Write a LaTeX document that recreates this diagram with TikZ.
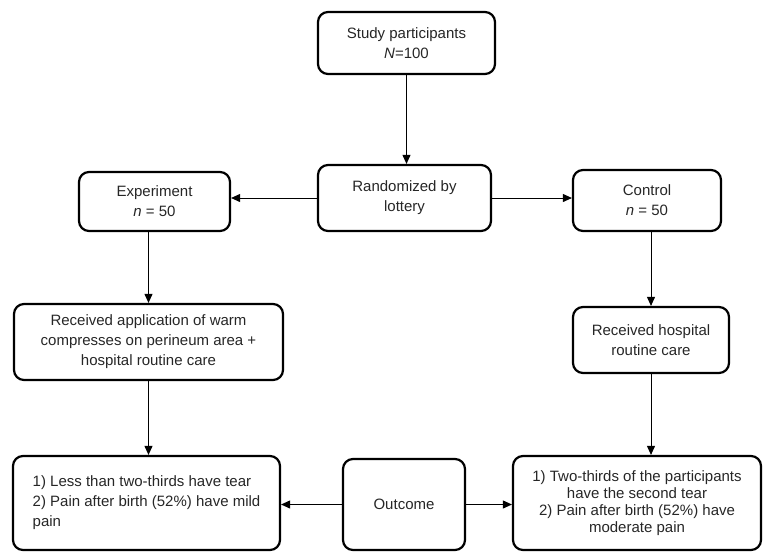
\documentclass[tikz,border=0pt]{standalone}
\usepackage{fontspec}
\setmainfont{Liberation Sans}
\usetikzlibrary{arrows.meta, positioning, calc}

\begin{document}
\begin{tikzpicture}[x=1pt, y=-1pt,
    box/.style={draw, rounded corners=10pt, line width=2.2pt, align=center, inner sep=0pt,
        font=\fontsize{15}{20}\selectfont, text=black!85},
    arr/.style={-{Triangle[length=9pt, width=8pt]}, line width=0.9pt}]
    \useasboundingbox (0,0) rectangle (763,552);

    \node[box, minimum width=177pt, minimum height=62pt] (study) at (406.5,43) {Study participants\\\textit{N}=100};
    \node[box, minimum width=173pt, minimum height=66pt] (random) at (404.5,198) {Randomized by\\lottery};
    \node[box, minimum width=151pt, minimum height=59pt] (exp) at (154.5,201.5) {Experiment\\\textit{n} = 50};
    \node[box, minimum width=148pt, minimum height=61pt] (ctrl) at (647,200.5) {Control\\\textit{n} = 50};
    \node[box, minimum width=269pt, minimum height=76pt] (recvexp) at (148.5,342) {Received application of warm\\compresses on perineum area +\\hospital routine care};
    \node[box, minimum width=156pt, minimum height=66pt] (recvctrl) at (651,340) {Received hospital\\routine care};
    \node[box, minimum width=267pt, minimum height=94pt, align=left] (outexp) at (146.5,503) {1) Less than two-thirds have tear\\2) Pain after birth (52\%) have mild\\pain};
    \node[box, minimum width=122pt, minimum height=91pt] (outcome) at (404,504.5) {Outcome};
    \node[box, minimum width=248pt, minimum height=94pt, font=\fontsize{15}{17}\selectfont] (outctrl) at (637,503) {1) Two-thirds of the participants\\have the second tear\\2) Pain after birth (52\%) have\\moderate pain};

    \draw[arr] (study.south) -- (study.south |- random.north);
    \draw[arr] (random.west) -- (random.west -| exp.east);
    \draw[arr] (random.east) -- (random.east -| ctrl.west);
    \draw[arr] (recvexp.north |- exp.south) -- (recvexp.north);
    \draw[arr] (recvctrl.north |- ctrl.south) -- (recvctrl.north);
    \draw[arr] (recvexp.south) -- (recvexp.south |- outexp.north);
    \draw[arr] (recvctrl.south) -- (recvctrl.south |- outctrl.north);
    \draw[arr] (outcome.west) -- (outcome.west -| outexp.east);
    \draw[arr] (outcome.east) -- (outcome.east -| outctrl.west);
\end{tikzpicture}
\end{document}
